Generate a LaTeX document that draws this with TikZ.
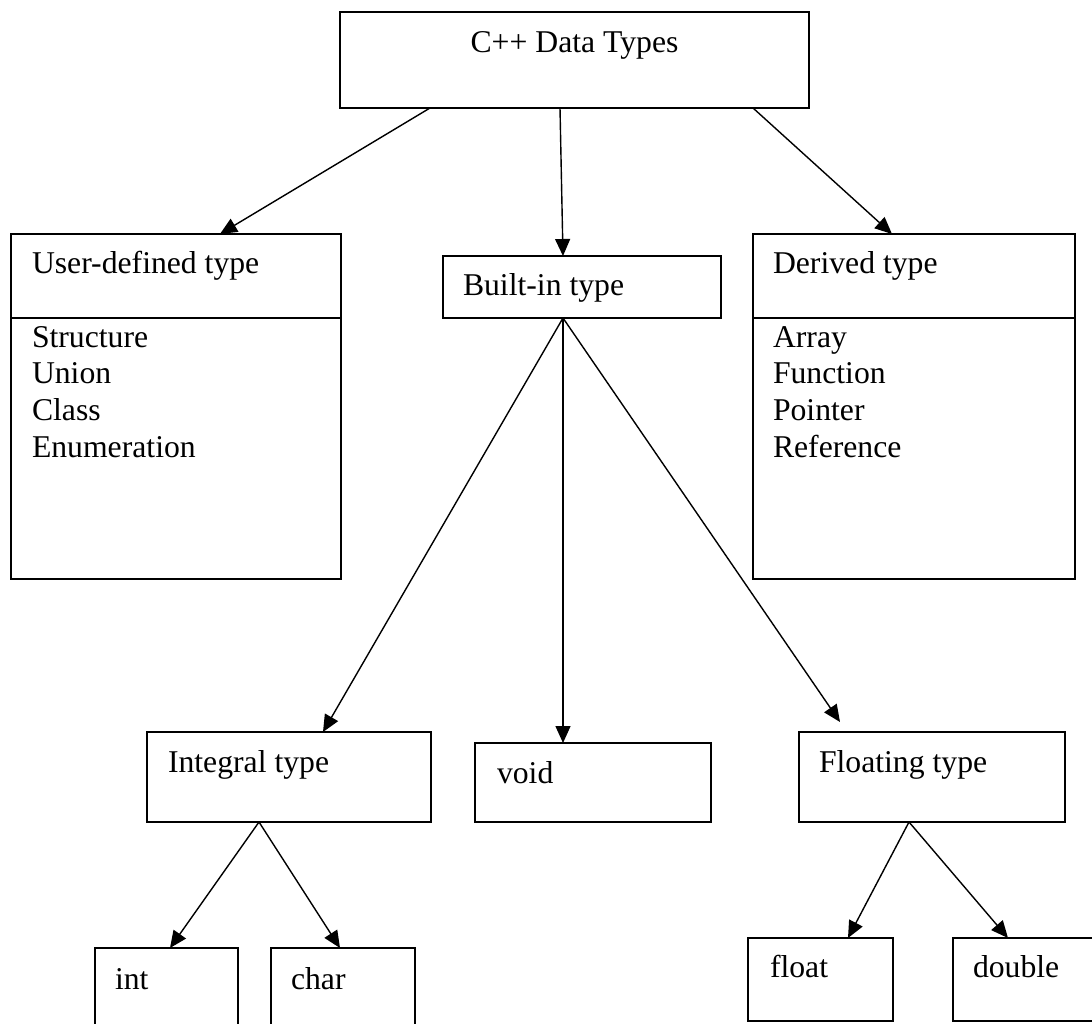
\documentclass[tikz,border=0pt]{standalone}
\usepackage{fontspec}
\setmainfont{Liberation Serif}
\usetikzlibrary{arrows.meta}
\begin{document}
\begin{tikzpicture}[x=1pt,y=-1pt,
  boxnode/.style={draw, line width=1.5pt, inner sep=0pt, outer sep=0pt, anchor=north west},
  divider/.style={line width=1.5pt},
  lbl/.style={anchor=base west, inner sep=0pt, outer sep=0pt, font=\fontsize{31.7}{36.7}\selectfont},
  arr/.style={-{Triangle[length=17pt,width=15pt]}, line width=1.4pt}]
\useasboundingbox (0,0) rectangle (1092,1024);
\fill[white] (0,0) rectangle (1092,1024);
\clip (0,0) rectangle (1092,1024);

% boxes
\node[boxnode, minimum width=469pt, minimum height=96pt]  (top) at (340,12) {};
\node[boxnode, minimum width=330pt, minimum height=345pt] (ud)  at (11,234) {};
\node[boxnode, minimum width=278pt, minimum height=62pt]  (bi)  at (443,256) {};
\node[boxnode, minimum width=322pt, minimum height=345pt] (dr)  at (753,234) {};
\node[boxnode, minimum width=284pt, minimum height=90pt]  (ig)  at (147,732) {};
\node[boxnode, minimum width=236pt, minimum height=79pt]  (vd)  at (475,743) {};
\node[boxnode, minimum width=266pt, minimum height=90pt]  (fl)  at (799,732) {};
\node[boxnode, minimum width=143pt, minimum height=110pt] (in)  at (95,948) {};
\node[boxnode, minimum width=144pt, minimum height=110pt] (ch)  at (271,948) {};
\node[boxnode, minimum width=145pt, minimum height=83pt]  (ft)  at (748,938) {};
\node[boxnode, minimum width=160pt, minimum height=83pt]  (db)  at (953,938) {};

% compartment dividers
\draw[divider] (ud.west |- 0,318) -- (ud.east |- 0,318);
\draw[divider] (dr.west |- 0,318) -- (dr.east |- 0,318);

% labels
\node[lbl, anchor=base] (top-t) at (574.5,53) {C++ Data Types};
\node[lbl] (ud-t) at (32,273) {User-defined type};
\node[lbl] (ud-1) at (32,347) {Structure};
\node[lbl] (ud-2) at (32,383) {Union};
\node[lbl] (ud-3) at (32,420) {Class};
\node[lbl] (ud-4) at (32,457) {Enumeration};
\node[lbl] (bi-t) at (463,296) {Built-in type};
\node[lbl] (dr-t) at (773,273) {Derived type};
\node[lbl] (dr-1) at (773,347) {Array};
\node[lbl] (dr-2) at (773,383) {Function};
\node[lbl] (dr-3) at (773,420) {Pointer};
\node[lbl] (dr-4) at (773,457) {Reference};
\node[lbl] (ig-t) at (168,772) {Integral type};
\node[lbl] (vd-t) at (497,783) {void};
\node[lbl] (fl-t) at (819,772) {Floating type};
\node[lbl] (in-t) at (115,989) {int};
\node[lbl] (ch-t) at (291,989) {char};
\node[lbl] (ft-t) at (770,977) {float};
\node[lbl] (db-t) at (973,977) {double};

% connectors
\coordinate (fl-in) at (840,722);
\draw[arr] ([xshift=-144.5pt]top.south) -- ([xshift=44pt]ud.north);
\draw[arr] ([xshift=-14.5pt]top.south) -- ([xshift=-19pt]bi.north);
\draw[arr] ([xshift=178.5pt]top.south) -- ([xshift=-22pt]dr.north);
\draw[arr] ([xshift=-19pt]bi.south) -- ([xshift=34pt]ig.north);
\draw[arr] ([xshift=-19pt]bi.south) -- ([xshift=-30pt]vd.north);
\draw[arr] ([xshift=-19pt]bi.south) -- (fl-in);
\draw[arr] ([xshift=-30pt]ig.south) -- ([xshift=3.5pt]in.north);
\draw[arr] ([xshift=-30pt]ig.south) -- ([xshift=-3pt]ch.north);
\draw[arr] ([xshift=-23pt]fl.south) -- ([xshift=27.5pt]ft.north);
\draw[arr] ([xshift=-23pt]fl.south) -- ([xshift=-25pt]db.north);
\end{tikzpicture}
\end{document}
